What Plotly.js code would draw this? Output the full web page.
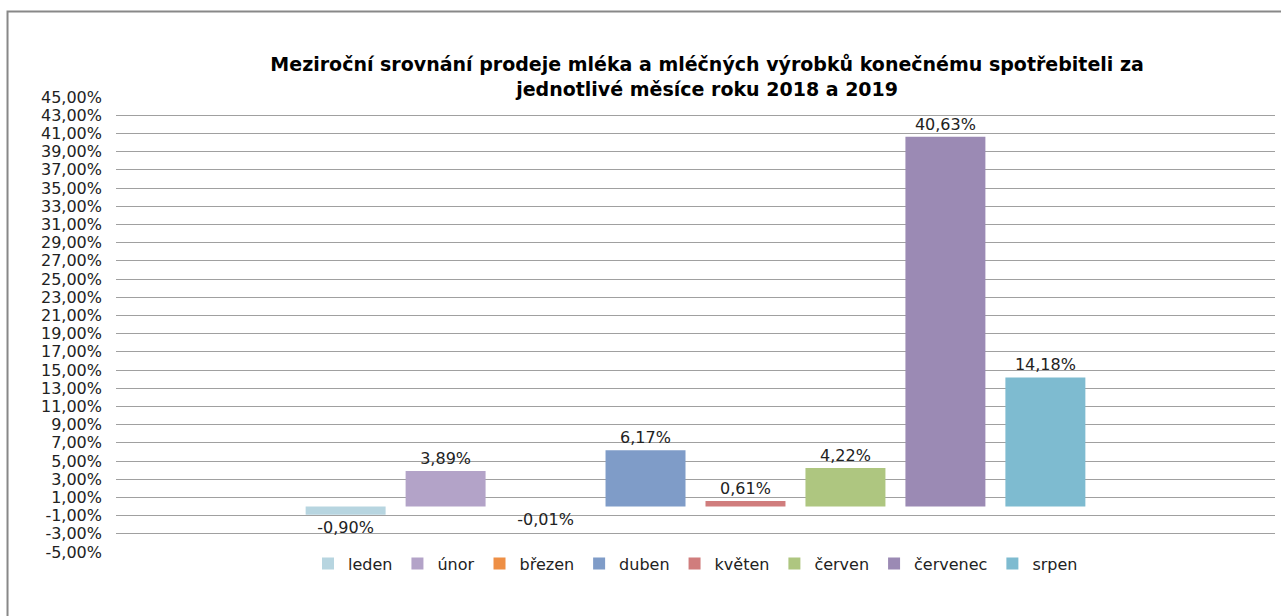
<!DOCTYPE html>
<html>
<head>
<meta charset="utf-8">
<script src="https://cdn.plot.ly/plotly-3.0.1.min.js"></script>
<style>html,body{margin:0;padding:0;background:#fff;}#chart{width:1281px;height:616px;}</style>
</head>
<body>
<div id="chart"></div>
<script>
const months = ["leden", "únor", "březen", "duben", "květen", "červen", "červenec", "srpen"];
const values = [-0.90, 3.89, -0.01, 6.17, 0.61, 4.22, 40.63, 14.18];
const colors = ["#B7D5E0", "#B3A3C8", "#EE8F45", "#7F9CC8", "#D07D7D", "#AEC680", "#9B8AB4", "#7EBBD0"];
const tickValues = [-5, -3, -1, 1, 3, 5, 7, 9, 11, 13, 15, 17, 19, 21, 23, 25, 27, 29, 31, 33, 35, 37, 39, 41, 43, 45];
const category = ["2018/2019"];

const fmt = v => v.toFixed(2).replace('.', ',') + '%';
const FONT = "DejaVu Sans, Verdana, sans-serif";

const traces = months.map((m, i) => ({
  type: 'bar',
  name: m,
  x: category,
  y: [values[i]],
  text: [fmt(values[i])],
  textposition: 'outside',
  constraintext: 'none',
  cliponaxis: false,
  textfont: {family: FONT, size: 16, color: '#222'},
  marker: {color: colors[i]},
  hoverinfo: 'skip'
}));

const layout = {
  width: 1281, height: 616,
  margin: {l: 116, r: 6, t: 97, b: 64},
  paper_bgcolor: '#fff', plot_bgcolor: '#fff',
  barmode: 'group',
  bargap: 0.31,
  bargroupgap: 0.2,
  showlegend: true,
  title: {
    text: 'Meziroční srovnání prodeje mléka a mléčných výrobků konečnému spotřebiteli za<br>jednotlivé měsíce roku 2018 a 2019',
    font: {family: FONT, size: 19, color: '#000', weight: 'bold'},
    x: 0.552, xanchor: 'center', xref: 'container',
    y: 0.885, yanchor: 'middle', yref: 'container'
  },
  xaxis: {showticklabels: false, showgrid: false, zeroline: false, showline: false, ticks: ''},
  yaxis: {
    range: [-5, 45],
    tickmode: 'array',
    tickvals: tickValues,
    ticktext: tickValues.map(fmt),
    tickfont: {family: FONT, size: 16, color: '#222'},
    showgrid: true, gridcolor: '#a0a0a0', gridwidth: 1,
    zeroline: false, showline: false, ticks: '', ticklabelstandoff: 13
  },
  legend: {
    orientation: 'h', x: 0.5, xanchor: 'center', y: 0.012, yanchor: 'top',
    font: {family: FONT, size: 16, color: '#222'},
    itemclick: false, traceorder: 'normal'
  },
  shapes: [{
    type: 'path', xref: 'paper', yref: 'paper',
    path: 'M 1.1,1.188 L -0.0936,1.188 L -0.0936,-0.3',
    line: {color: '#888', width: 2}
  }]
};

Plotly.newPlot('chart', traces, layout, {displayModeBar: false, staticPlot: true});
</script>
</body>
</html>
